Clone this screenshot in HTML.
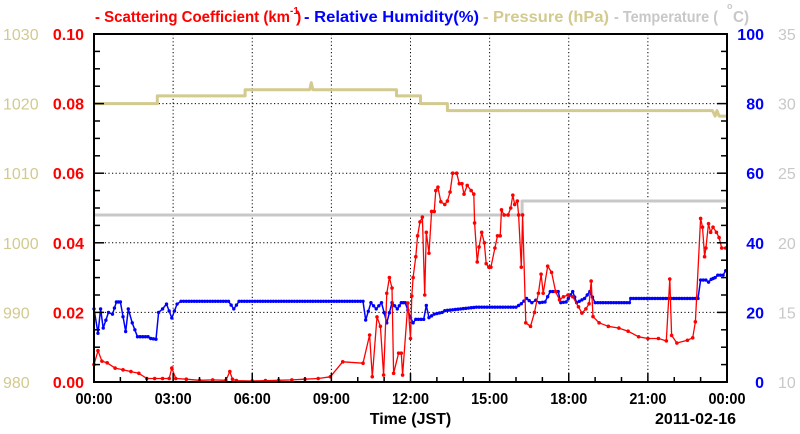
<!DOCTYPE html>
<html><head><meta charset="utf-8"><style>
html,body{margin:0;padding:0;background:#fff;}
svg{display:block;font-family:"Liberation Sans",Arial,sans-serif;}
</style></head><body>
<svg id="chart" width="800" height="434" viewBox="0 0 800 434">
<g id="title" font-size="16" font-weight="bold">
 <text x="95" y="22" fill="#ff0000" textLength="195" lengthAdjust="spacingAndGlyphs">- Scattering Coefficient (km</text>
 <text x="290" y="14" fill="#ff0000" font-size="10">-1</text>
 <text x="296" y="22" fill="#ff0000">)</text>
 <text x="304" y="22" fill="#0000ff" textLength="175" lengthAdjust="spacingAndGlyphs">- Relative Humidity(%)</text>
 <text x="483" y="22" fill="#d2ca8e" textLength="126" lengthAdjust="spacingAndGlyphs">- Pressure (hPa)</text>
 <text x="614" y="22" fill="#c8c8c8" textLength="104" lengthAdjust="spacingAndGlyphs">- Temperature (</text>
 <text x="727" y="9" fill="#c8c8c8" font-size="9">o</text>
 <text x="733" y="22" fill="#c8c8c8" textLength="16" lengthAdjust="spacingAndGlyphs">C)</text>
</g>
<g id="grid"></g>
<g id="series"></g>
<g id="axes"></g>
</svg>
<script>
const scatHours=[0,0.15,0.3,0.5,0.8,1.1,1.4,1.7,2.0,2.3,2.6,2.85,2.95,3.1,3.5,4.0,4.5,5.0,5.15,5.25,5.4,6.0,6.5,7.0,7.5,8.0,8.5,8.96,9.43,10.2,10.45,10.55,10.73,10.86,10.98,11.1,11.2,11.3,11.36,11.55,11.65,11.7,11.9,12.0,12.05,12.1,12.2,12.27,12.36,12.45,12.54,12.6,12.7,12.8,12.9,12.96,13.04,13.15,13.3,13.4,13.5,13.6,13.75,13.85,13.95,14.03,14.15,14.3,14.4,14.43,14.53,14.6,14.7,14.8,14.87,14.97,15.05,15.2,15.3,15.4,15.45,15.55,15.7,15.8,15.88,15.95,16.05,16.1,16.2,16.25,16.37,16.55,16.7,16.85,16.95,17.03,17.2,17.35,17.5,17.65,17.8,17.97,18.15,18.37,18.5,18.65,18.77,18.85,18.92,19.15,19.5,19.9,20.25,20.65,21.0,21.4,21.7,21.83,21.9,22.1,22.5,22.7,22.8,23.0,23.07,23.15,23.2,23.3,23.38,23.47,23.6,23.7,23.8,23.95];
const scatValues=[0.005,0.009,0.006,0.0055,0.004,0.0035,0.003,0.0025,0.001,0.001,0.001,0.001,0.004,0.001,0.0008,0.0005,0.0006,0.0005,0.003,0.0008,0.0004,0.0003,0.0004,0.0005,0.0006,0.0008,0.001,0.0015,0.0058,0.0054,0.0135,0.0015,0.0187,0.016,0.002,0.0255,0.030,0.027,0.0025,0.0083,0.0083,0.002,0.0227,0.0125,0.0247,0.030,0.036,0.042,0.046,0.0474,0.025,0.043,0.037,0.049,0.049,0.055,0.056,0.0518,0.051,0.052,0.0546,0.060,0.060,0.057,0.057,0.054,0.0565,0.055,0.054,0.0457,0.0345,0.0388,0.043,0.040,0.034,0.033,0.033,0.0385,0.042,0.042,0.0495,0.048,0.048,0.050,0.0537,0.051,0.052,0.048,0.033,0.048,0.017,0.016,0.020,0.0255,0.031,0.0255,0.0333,0.0315,0.026,0.0236,0.0245,0.025,0.0245,0.0216,0.0198,0.021,0.0225,0.029,0.0188,0.017,0.016,0.0155,0.0146,0.013,0.0125,0.0125,0.0118,0.0296,0.0134,0.0112,0.012,0.0127,0.0173,0.047,0.0445,0.036,0.0385,0.0455,0.043,0.0445,0.043,0.0415,0.0385,0.0385];
const rhHours=[0,0.15,0.25,0.35,0.55,0.7,0.85,1.0,1.2,1.3,1.45,1.65,1.85,2.05,2.15,2.35,2.45,2.6,2.75,2.95,3.15,3.3,5.1,5.3,5.5,10.2,10.3,10.5,10.7,10.9,11.1,11.3,11.5,11.65,11.8,12.0,12.1,12.2,12.5,12.6,12.7,12.9,13.2,13.3,14.5,16.0,16.2,16.4,16.6,16.75,16.9,17.1,17.3,17.6,17.7,17.9,18.15,18.3,18.6,18.8,19.0,20.3,20.35,22.9,23.0,23.2,23.3,23.4,23.55,23.65,23.85,23.95,24];
const rhValues=[21,14,21,15.5,20,19.5,23,23,14.5,21,17,13,13,13,12.5,12.3,20,21,22.4,18.4,22.4,23.2,23.2,21,23.2,23.2,17.8,22.8,21,22.8,17,22.8,21,22.8,22.8,18.5,17,18,18,22,18.5,19.5,20,20.5,21.5,21.5,22.5,24,22.8,23.5,22.8,23,26,26,22.8,23,26,22.8,24,26,22.8,22.8,24,24,29.3,29.3,28.7,29.5,30,30.7,30.7,32,32];
const presHours=[0,2.4,2.4,5.73,5.73,8.18,8.24,8.3,11.47,11.47,12.38,12.38,13.4,13.4,23.45,23.55,23.62,23.7,24];
const presValues=[1020,1020,1021.1,1021.1,1022,1022,1023,1022,1022,1021.1,1021.1,1020,1020,1019,1019,1018.2,1019,1018.2,1018.2];
const tempHours=[0,16.23,16.23,24];
const tempValues=[22,22,23,23];
const xTickLabels=["00:00","03:00","06:00","09:00","12:00","15:00","18:00","21:00","00:00"];
const scatTicks=["0.00","0.02","0.04","0.06","0.08","0.10"];
const presTicks=["980","990","1000","1010","1020","1030"];
const rhTicks=["0","20","40","60","80","100"];
const tempTicks=["10","15","20","25","30","35"];

const L=94,R=727,T=34,B=382;
const NS="http://www.w3.org/2000/svg";
const x=h=>L+(R-L)*h/24;
const yScat=v=>B-(B-T)*v/0.1;
const yPres=p=>B-(B-T)*(p-980)/50;
const yRH=r=>B-(B-T)*r/100;
const yTemp=t=>B-(B-T)*(t-10)/25;
function mk(tag,attrs,parent){const e=document.createElementNS(NS,tag);for(const k in attrs)e.setAttribute(k,attrs[k]);parent.appendChild(e);return e;}
const grid=document.getElementById('grid'),ser=document.getElementById('series'),axes=document.getElementById('axes');
// grid
for(let i=1;i<8;i++){const g=mk('line',{x1:x(i*3),x2:x(i*3),y1:T,y2:B,stroke:'#000','stroke-width':1,'stroke-dasharray':'1.2,2.4'},grid);

}
for(let i=1;i<5;i++){const g=mk('line',{x1:L,x2:R,y1:yScat(i*0.02),y2:yScat(i*0.02),stroke:'#000','stroke-width':1,'stroke-dasharray':'1.2,2.4'},grid);

}
function poly(xs,ys,fx,fy,color,w,name){const pts=xs.map((h,i)=>fx(h).toFixed(1)+','+fy(ys[i]).toFixed(1)).join(' ');
const p=mk('polyline',{points:pts,fill:'none',stroke:color,'stroke-width':w,'stroke-linejoin':'round'},ser);

return p;}
function dots(xs,ys,fx,fy,color,name){xs.forEach((h,i)=>{const c=mk('circle',{cx:fx(h),cy:fy(ys[i]),r:1.8,fill:color},ser);

});}
function denseDots(xs,ys,fx,fy,color,name){for(let i=0;i<xs.length-1;i++){const n=Math.max(1,Math.round((xs[i+1]-xs[i])/0.1));for(let k=0;k<n;k++){const t=k/n;const h=xs[i]+(xs[i+1]-xs[i])*t;const v=ys[i]+(ys[i+1]-ys[i])*t;const c=mk('circle',{cx:fx(h),cy:fy(v),r:1.7,fill:color},ser);

}}}
poly(tempHours,tempValues,x,yTemp,'#c8c8c8',3,'temperature-line');
poly(presHours,presValues,x,yPres,'#d2ca8e',3,'pressure-line');
poly(rhHours,rhValues,x,yRH,'#0000ff',1.5,'humidity-line');
denseDots(rhHours,rhValues,x,yRH,'#0000ff','humidity-point');
poly(scatHours,scatValues,x,yScat,'#ff0000',1.3,'scattering-line');
dots(scatHours,scatValues,x,yScat,'#ff0000','scattering-point');
// frame
const fr=mk('rect',{x:L,y:T,width:R-L,height:B-T,fill:'none',stroke:'#000','stroke-width':2},axes);


// y minor/major ticks
for(let i=0;i<=20;i++){const yy=B-(B-T)*i/20;const len=i%4==0?10:6;
const a=mk('line',{x1:L,x2:L+len,y1:yy,y2:yy,stroke:'#000','stroke-width':1.5},axes);


const b=mk('line',{x1:R,x2:R-len,y1:yy,y2:yy,stroke:'#000','stroke-width':1.5},axes);

}
for(let i=0;i<=24;i++){const len=i%3==0?9:5;const t=mk('line',{x1:x(i),x2:x(i),y1:B,y2:B-len,stroke:'#000','stroke-width':1.5},axes);

}
function txt(s,xx,yy,attrs,name){const e=mk('text',Object.assign({x:xx,y:yy},attrs),axes);e.textContent=s;

return e;}
xTickLabels.forEach((s,i)=>txt(s,x(i*3),404,{'text-anchor':'middle','font-size':16,'font-weight':'bold',fill:'#000',textLength:37,lengthAdjust:'spacingAndGlyphs'},'x-tick-label'));
scatTicks.forEach((s,i)=>txt(s,84,yScat(i*0.02)+6,{'text-anchor':'end','font-size':16,'font-weight':'bold',fill:'#ff0000'},'scattering-tick-label'));
presTicks.forEach((s,i)=>txt(s,3,yPres(980+i*10)+6,{'font-size':16,fill:'#d2ca8e'},'pressure-tick-label'));
rhTicks.forEach((s,i)=>txt(s,764,yRH(i*20)+6,{'text-anchor':'end','font-size':16,'font-weight':'bold',fill:'#0000ff'},'humidity-tick-label'));
tempTicks.forEach((s,i)=>txt(s,778,yTemp(10+i*5)+6,{'font-size':16,fill:'#c8c8c8'},'temperature-tick-label'));
txt('Time (JST)',L+(R-L)/2,424,{'text-anchor':'middle','font-size':16,'font-weight':'bold',fill:'#000'},'x-axis-title');
txt('2011-02-16',736,424,{'text-anchor':'end','font-size':16,'font-weight':'bold',fill:'#000'},'date-label');
</script>
</body></html>
